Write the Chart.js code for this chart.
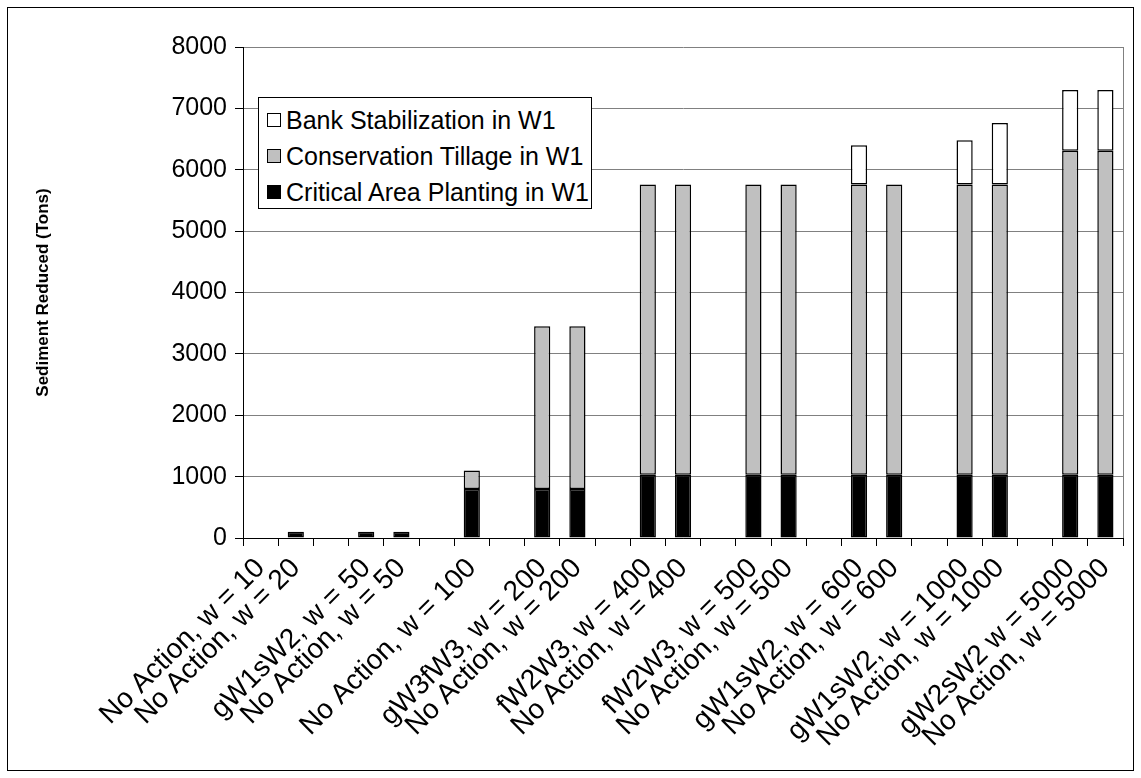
<!DOCTYPE html>
<html>
<head>
<meta charset="utf-8">
<script src="https://cdn.jsdelivr.net/npm/chart.js@4.4.1/dist/chart.umd.min.js"></script>
<style>
  html, body { margin: 0; padding: 0; background: #fff; }
  #wrap { position: relative; width: 1141px; height: 778px; }
  #frame { position: absolute; left: 7px; top: 7px; width: 1125px; height: 762px; border: 1px solid #000; pointer-events: none; }
  #legend { position: absolute; left: 258px; top: 97px; width: 334px; height: 112px; border: 1px solid #000;
            background: #fff; font-family: "Liberation Sans", Arial, sans-serif; font-size: 25px; color: #000;
            box-sizing: border-box; padding: 4px 0 0 8px; }
  #legend .row { height: 36px; display: flex; align-items: center; white-space: nowrap; }
  #legend .sw { width: 14px; height: 14px; border: 1px solid #000; margin-right: 5px; box-sizing: border-box; }
</style>
</head>
<body>
<div id="wrap">
  <canvas id="chart"></canvas>
  <div id="legend"></div>
  <div id="frame"></div>
</div>
<script>
const labels = [
  "No Action, w = 10", "No Action, w = 20", "",
  "gW1sW2, w = 50", "No Action, w = 50", "",
  "No Action, w = 100", "",
  "gW3fW3, w = 200", "No Action, w = 200", "",
  "fW2W3, w = 400", "No Action, w = 400", "",
  "fW2W3, w = 500", "No Action, w = 500", "",
  "gW1sW2, w = 600", "No Action, w = 600", "",
  "gW1sW2, w = 1000", "No Action, w = 1000", "",
  "gW2sW2 w = 5000", "No Action, w = 5000"
];
const criticalArea = [null, 100, null, 100, 100, null, 800, null, 800, 800, null, 1030, 1030, null, 1030, 1030, null, 1030, 1030, null, 1030, 1030, null, 1030, 1030];
const consTillage = [null, null, null, null, null, null, 300, null, 2650, 2650, null, 4730, 4730, null, 4730, 4730, null, 4730, 4730, null, 4730, 4730, null, 5280, 5280];
const bankStab = [null, null, null, null, null, null, null, null, null, null, null, null, null, null, null, null, null, 640, null, null, 720, 1000, null, 990, 990];
const yTicks = [0, 1000, 2000, 3000, 4000, 5000, 6000, 7000, 8000];

const FONT = "'Liberation Sans', Arial, sans-serif";

const series = [
  {label: "Bank Stabilization in W1", data: bankStab, color: "#ffffff"},
  {label: "Conservation Tillage in W1", data: consTillage, color: "#c0c0c0"},
  {label: "Critical Area Planting in W1", data: criticalArea, color: "#000000"}
];

// legend box (html)
const legendEl = document.getElementById("legend");
series.forEach(s => {
  const row = document.createElement("div");
  row.className = "row";
  row.innerHTML = `<span class="sw" style="background:${s.color}"></span><span>${s.label}</span>`;
  legendEl.appendChild(row);
});

// gray border on the right side of the plot area
const plotBorder = {
  id: "plotBorder",
  beforeDatasetsDraw(chart) {
    const a = chart.chartArea, c = chart.ctx;
    c.save();
    c.strokeStyle = "#808080";
    c.lineWidth = 1;
    c.beginPath();
    c.moveTo(a.right + 0.5, a.top);
    c.lineTo(a.right + 0.5, a.bottom);
    c.stroke();
    c.restore();
  }
};

const ds = series.slice().reverse().map(s => ({
  label: s.label,
  data: s.data,
  backgroundColor: s.color,
  borderColor: "#000",
  borderWidth: 1.5,
  borderSkipped: false,
  categoryPercentage: 1,
  barPercentage: 0.46
}));

new Chart(document.getElementById("chart"), {
  type: "bar",
  data: { labels: labels, datasets: ds },
  options: {
    responsive: true,
    maintainAspectRatio: false,
    animation: false,
    layout: { padding: { left: 33, right: 18, top: 47, bottom: 0 } },
    plugins: { legend: { display: false }, tooltip: { enabled: false } },
    scales: {
      x: {
        stacked: true,
        afterFit(scale) { scale.height = 240; },
        grid: { drawOnChartArea: false, tickLength: 8, color: "#000", offset: true },
        border: { color: "#000" },
        ticks: {
          autoSkip: false, maxRotation: 45, minRotation: 45, padding: 6,
          color: "#000", font: { family: FONT, size: 28 }
        }
      },
      y: {
        stacked: true,
        min: 0, max: 8000,
        afterFit(scale) { scale.width = 210; },
        afterBuildTicks(scale) { scale.ticks = yTicks.map(v => ({value: v})); },
        grid: {
          color: ctx => ctx.tick && ctx.tick.value === 0 ? "#000" : "#808080",
          tickColor: "#000", tickLength: 8
        },
        border: { color: "#000" },
        ticks: {
          padding: 8, color: "#000", font: { family: FONT, size: 25 },
          callback: v => String(v)
        },
        title: {
          display: true, text: "Sediment Reduced (Tons)", color: "#000",
          font: { family: FONT, size: 17, weight: "bold" }, padding: 0
        }
      }
    }
  },
  plugins: [plotBorder]
});
</script>
</body>
</html>
